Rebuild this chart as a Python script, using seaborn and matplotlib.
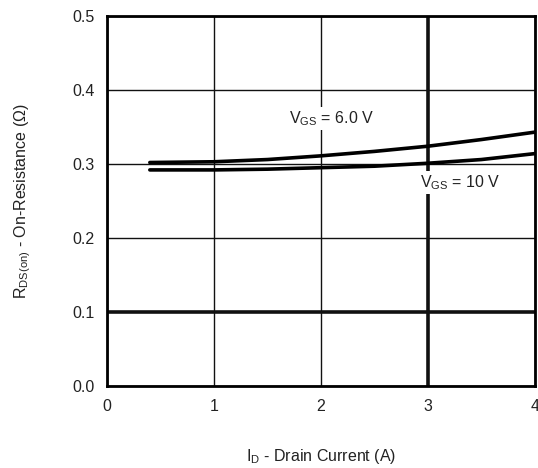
import matplotlib
matplotlib.use("Agg")
import matplotlib.pyplot as plt
import seaborn as sns
import pandas as pd

# Data
current_a = [0.4, 1.0, 1.5, 2.0, 2.5, 3.0, 3.5, 4.0]
rds_vgs6 = [0.302, 0.303, 0.306, 0.311, 0.317, 0.324, 0.333, 0.343]
rds_vgs10 = [0.292, 0.292, 0.293, 0.295, 0.297, 0.301, 0.306, 0.314]
x_ticks = [0, 1, 2, 3, 4]
y_ticks = [0.0, 0.1, 0.2, 0.3, 0.4, 0.5]
y_tick_labels = ["0.0", "0.1", "0.2", "0.3", "0.4", "0.5"]
series_names = ["VGS = 6.0 V", "VGS = 10 V"]

df = pd.DataFrame({
    "current": current_a * 2,
    "rds": rds_vgs6 + rds_vgs10,
    "series": [series_names[0]] * len(current_a) + [series_names[1]] * len(current_a),
})

sns.set_theme(style="white")
plt.rcParams["font.family"] = ["Liberation Sans", "DejaVu Sans"]
plt.rcParams["mathtext.default"] = "regular"

fig = plt.figure(figsize=(5.38, 4.68), dpi=100)
ax = fig.add_axes([0.199, 0.175, 0.795, 0.791])

sns.lineplot(data=df, x="current", y="rds", hue="series",
             palette=["black", "black"], linewidth=2.6, legend=False,
             ax=ax, zorder=4)

ax.set_xlim(0, 4)
ax.set_ylim(0, 0.5)
ax.set_xticks(x_ticks)
ax.set_yticks(y_ticks)
ax.set_yticklabels(y_tick_labels)
ax.tick_params(axis="both", length=0, labelsize=11.5, colors="#222222", pad=9)

ax.grid(True, color="#111111", linewidth=1.0)
ax.set_axisbelow(True)
for val, gl in zip(x_ticks, ax.get_xgridlines()):
    if val == 3:
        gl.set_linewidth(2.6)
for val, gl in zip(y_ticks, ax.get_ygridlines()):
    if val == 0.1:
        gl.set_linewidth(2.6)

for s in ax.spines.values():
    s.set_visible(True)
    s.set_color("black")
    s.set_linewidth(2.0)

ax.set_xlabel("I$_{D}$ - Drain Current (A)", fontsize=11.5, color="#222222", labelpad=24)
ax.set_ylabel("R$_{DS(on)}$ - On-Resistance (Ω)", fontsize=11.5, color="#222222", labelpad=28)

box = dict(facecolor="white", edgecolor="none", pad=1.5)
ax.text(2.1, 0.361, "V$_{GS}$ = 6.0 V", fontsize=11.5, color="#222222",
        ha="center", va="center", bbox=box, zorder=5)
ax.text(3.30, 0.275, "V$_{GS}$ = 10 V", fontsize=11.5, color="#222222",
        ha="center", va="center", bbox=box, zorder=5)

fig.savefig("out.png", dpi=100)
